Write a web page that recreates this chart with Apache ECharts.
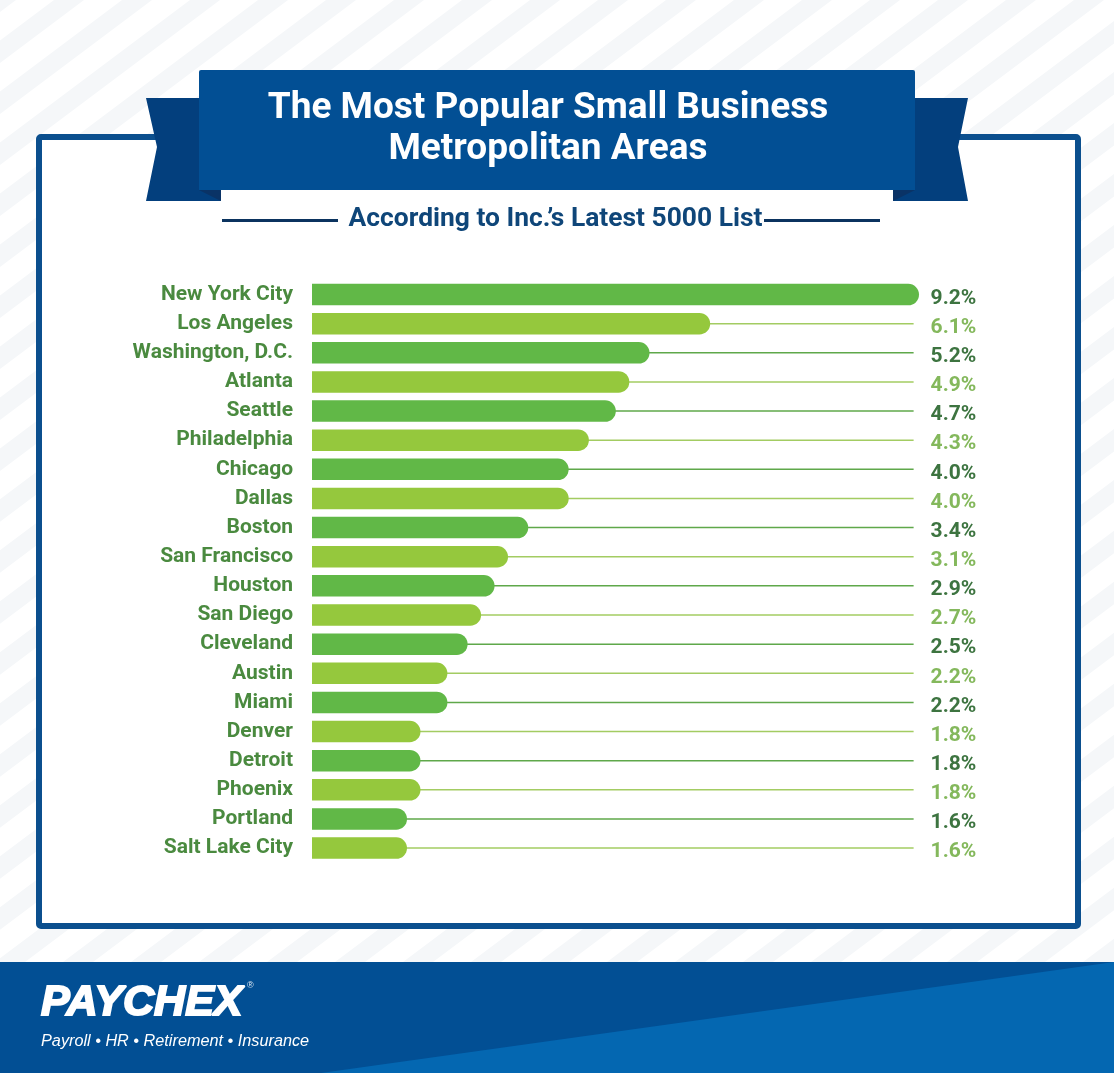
<!DOCTYPE html>
<html>
<head>
<meta charset="utf-8">
<style>
html,body{margin:0;padding:0;background:#fff;}
#chart{width:1114px;height:1073px;}
</style>
<script src="https://cdn.jsdelivr.net/npm/echarts@6/dist/echarts.min.js"></script>
</head>
<body>
<div id="chart"></div>
<script>
const cities = ['New York City','Los Angeles','Washington, D.C.','Atlanta','Seattle','Philadelphia','Chicago','Dallas','Boston','San Francisco','Houston','San Diego','Cleveland','Austin','Miami','Denver','Detroit','Phoenix','Portland','Salt Lake City'];
const shares = [9.2,6.1,5.2,4.9,4.7,4.3,4.0,4.0,3.4,3.1,2.9,2.7,2.5,2.2,2.2,1.8,1.8,1.8,1.6,1.6];
// thin line behind each bar stops just short of the longest bar
const leaderEnds = cities.map(function(){ return 9.12; });

const BLUE = '#024f94';
const TAIL = '#033f7d';
const FOLD = '#0a3366';

// decoration: background stripes, frame, ribbon, footer
function poly(points,color,z){
	return {type:'polygon',z:z || 0,silent:true,shape:{points:points},style:{fill:color}};
}
function stripes(){
	let list = [];
	for(let x = -14; x < 2400; x += 68){
		list.push(poly([[x,0],[x+30,0],[x+30-1283,962],[x-1283,962]],'#f5f7f9'));
	}
	return list;
}
const decoration = stripes().concat([
	{type:'rect',silent:true,shape:{x:39,y:137,width:1039,height:789,r:2},style:{fill:'#fff',stroke:'#0b4f8e',lineWidth:6}},
	poly([[146,98],[210,98],[221,201],[146,201],[157,147]],TAIL),
	poly([[968,98],[905,98],[893,201],[968,201],[958,147]],TAIL),
	poly([[199,190],[221,190],[221,201]],FOLD),
	poly([[915,190],[893,190],[893,201]],FOLD),
	{type:'rect',silent:true,shape:{x:199,y:70,width:716,height:120,r:[2,2,0,0]},style:{fill:BLUE}},
	{type:'line',silent:true,shape:{x1:222,y1:220.5,x2:338,y2:220.5},style:{stroke:'#0b335f',lineWidth:3}},
	{type:'line',silent:true,shape:{x1:764,y1:220.5,x2:880,y2:220.5},style:{stroke:'#0b335f',lineWidth:3}},
	{type:'text',silent:true,style:{x:555.5,y:219,text:"According to Inc.\u2019s Latest 5000 List",align:'center',verticalAlign:'middle',fill:'#0f4679',font:'bold 26.4px Roboto'}},
	{type:'rect',silent:true,shape:{x:0,y:962,width:1114,height:111},style:{fill:BLUE}},
	poly([[1114,962],[1114,1073],[321,1073]],'#0467b1'),
	{type:'text',silent:true,style:{x:41,y:1003,text:'PAYCHEX',align:'left',verticalAlign:'middle',fill:'#fff',stroke:'#fff',lineWidth:2,font:'italic bold 43px "Liberation Sans"'}},
	{type:'text',silent:true,style:{x:247,y:986,text:'\u00ae',align:'left',verticalAlign:'middle',fill:'#dfe8f2',font:'9px "Liberation Sans"'}},
	{type:'text',silent:true,style:{x:41,y:1041,text:'Payroll \u2022 HR \u2022 Retirement \u2022 Insurance',align:'left',verticalAlign:'middle',fill:'#fff',font:'italic 16.25px "Liberation Sans"'}}
]);

function rowColor(dark,light){
	return function(p){ return p.dataIndex % 2 === 0 ? dark : light; };
}

let myChart = echarts.init(document.getElementById('chart'),null,{renderer:'canvas'});
myChart.setOption({
	animation:false,
	backgroundColor:'#fff',
	title:{
		text:'The Most Popular Small Business\nMetropolitan Areas',
		left:543,
		top:83,
		textAlign:'center',
		textStyle:{color:'#fff',fontFamily:'Roboto',fontWeight:'bold',fontSize:37,lineHeight:41}
	},
	graphic:decoration,
	grid:{left:312,top:280,width:607,height:582.6},
	// the bars start a little above zero in the original
	xAxis:{type:'value',min:0.19,max:9.2,show:false},
	yAxis:[
		{
			type:'category',
			inverse:true,
			data:cities,
			axisLine:{show:false},
			axisTick:{show:false},
			axisLabel:{margin:19,padding:[2,0,0,0],color:'#4a8a3f',fontFamily:'Roboto',fontWeight:'bold',fontSize:21,verticalAlign:'middle'}
		},
		{type:'category',inverse:true,data:cities,show:false}
	],
	series:[
		{
			name:'leader',
			type:'bar',
			yAxisIndex:1,
			barWidth:1.5,
			z:2,
			data:leaderEnds.map(function(v,i){
				return {value:v,label:{color:i % 2 === 0 ? '#3d7440' : '#84b85c'}};
			}),
			itemStyle:{color:rowColor('#5fa84a','#a3cc62')},
			label:{
				show:true,
				position:'right',
				distance:17,
				offset:[0,4],
				fontFamily:'Roboto',
				fontWeight:'bold',
				fontSize:21,
				formatter:function(p){ return shares[p.dataIndex].toFixed(1) + '%'; }
			}
		},
		{
			name:'share',
			type:'bar',
			yAxisIndex:0,
			barWidth:21.5,
			z:3,
			data:shares,
			itemStyle:{color:rowColor('#61b847','#95c83d'),borderRadius:[0,11,11,0]}
		}
	]
});
</script>
</body>
</html>
